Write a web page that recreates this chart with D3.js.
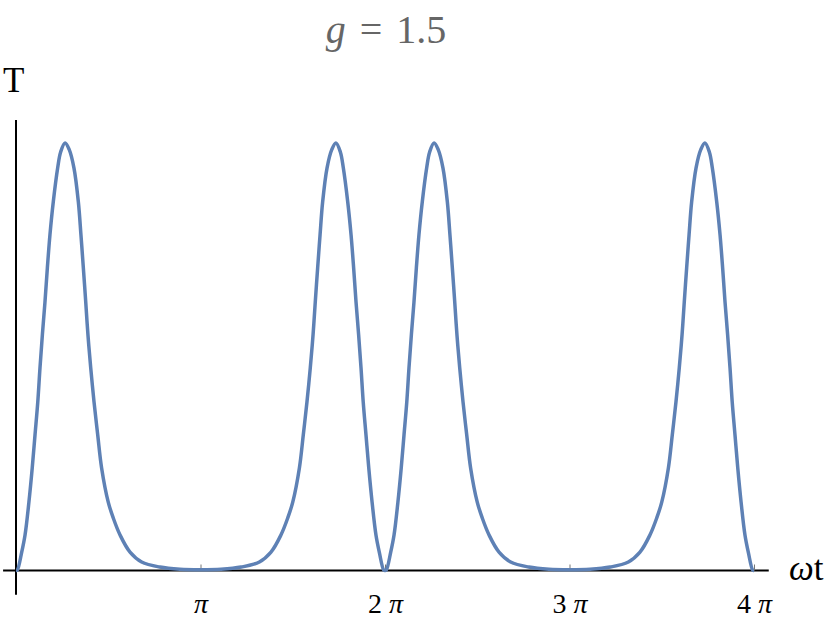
<!DOCTYPE html>
<html>
<head>
<meta charset="utf-8">
<script src="https://cdn.jsdelivr.net/npm/d3@7"></script>
<style>
  html, body { margin: 0; padding: 0; background: #fff; }
  svg { display: block; }
</style>
</head>
<body>
<svg id="chart" width="830" height="629" font-family="'Liberation Serif', 'DejaVu Serif', serif"></svg>
<script>
// ωt in units of π
const omegaT = [
  0, 0.007, 0.031, 0.049, 0.070, 0.088, 0.103, 0.118, 0.130, 0.143, 0.157, 0.170, 0.184, 0.202, 0.226, 0.242, 0.266,
  0.288, 0.314, 0.338, 0.352, 0.365, 0.378, 0.390, 0.405, 0.423, 0.443, 0.464, 0.500, 0.527, 0.564, 0.618, 0.681, 0.780, 0.889, 1.000,
  1.111, 1.220, 1.319, 1.382, 1.436, 1.473, 1.500, 1.536, 1.557, 1.577, 1.595, 1.610, 1.622, 1.635, 1.648, 1.662, 1.686, 1.712, 1.734,
  1.758, 1.774, 1.798, 1.816, 1.830, 1.843, 1.857, 1.870, 1.882, 1.897, 1.912, 1.930, 1.951, 1.969, 1.993, 2.000,
  2.007, 2.031, 2.049, 2.070, 2.088, 2.103, 2.118, 2.130, 2.143, 2.157, 2.170, 2.184, 2.202, 2.226, 2.242, 2.266,
  2.288, 2.314, 2.338, 2.352, 2.365, 2.378, 2.390, 2.405, 2.423, 2.443, 2.464, 2.500, 2.527, 2.564, 2.618, 2.681, 2.780, 2.889, 3.000,
  3.111, 3.220, 3.319, 3.382, 3.436, 3.473, 3.500, 3.536, 3.557, 3.577, 3.595, 3.610, 3.622, 3.635, 3.648, 3.662, 3.686, 3.712, 3.734,
  3.758, 3.774, 3.798, 3.816, 3.830, 3.843, 3.857, 3.870, 3.882, 3.897, 3.912, 3.930, 3.951, 3.969, 3.993, 4.000
];
const Tvals = [
  0, 0.001, 0.043, 0.083, 0.160, 0.240, 0.317, 0.394, 0.474, 0.552, 0.628, 0.708, 0.785, 0.862, 0.942, 0.979, 1.000,
  0.985, 0.942, 0.862, 0.785, 0.708, 0.628, 0.551, 0.474, 0.394, 0.317, 0.240, 0.160, 0.123, 0.083, 0.043, 0.020, 0.008, 0.003, 0.002,
  0.003, 0.008, 0.020, 0.043, 0.083, 0.123, 0.160, 0.240, 0.317, 0.394, 0.474, 0.551, 0.628, 0.708, 0.785, 0.862, 0.942, 0.985, 1.000,
  0.979, 0.942, 0.862, 0.785, 0.708, 0.628, 0.552, 0.474, 0.394, 0.317, 0.240, 0.160, 0.083, 0.043, 0.001, 0,
  0.001, 0.043, 0.083, 0.160, 0.240, 0.317, 0.394, 0.474, 0.552, 0.628, 0.708, 0.785, 0.862, 0.942, 0.979, 1.000,
  0.985, 0.942, 0.862, 0.785, 0.708, 0.628, 0.551, 0.474, 0.394, 0.317, 0.240, 0.160, 0.123, 0.083, 0.043, 0.020, 0.008, 0.003, 0.002,
  0.003, 0.008, 0.020, 0.043, 0.083, 0.123, 0.160, 0.240, 0.317, 0.394, 0.474, 0.551, 0.628, 0.708, 0.785, 0.862, 0.942, 0.985, 1.000,
  0.979, 0.942, 0.862, 0.785, 0.708, 0.628, 0.552, 0.474, 0.394, 0.317, 0.240, 0.160, 0.083, 0.043, 0.001, 0
];
const xTickValues = [1, 2, 3, 4];
const xTickCoeffs = ["", "2", "3", "4"];
const xAxisExtent = [-0.07, 4.08];
const yAxisExtent = [-0.057, 1.054];
const titleText = { name: "g", rest: " = 1.5" };
const yLabel = "T";
const SERIF = "'Liberation Serif', 'DejaVu Serif', serif";

const svg = d3.select("#chart");
const x = d3.scaleLinear().domain([0, 4]).range([16, 754]);
const y = d3.scaleLinear().domain([0, 1]).range([570.5, 143]);

// axes lines
svg.append("line")
  .attr("x1", x(xAxisExtent[0])).attr("x2", x(xAxisExtent[1]))
  .attr("y1", y(0)).attr("y2", y(0))
  .attr("stroke", "#000").attr("stroke-width", 2);
svg.append("line")
  .attr("x1", x(0)).attr("x2", x(0))
  .attr("y1", y(yAxisExtent[0])).attr("y2", y(yAxisExtent[1]))
  .attr("stroke", "#000").attr("stroke-width", 2);

// x axis ticks
const xAxis = d3.axisBottom(x).tickValues(xTickValues).tickSize(-6).tickFormat(() => "");
const gx = svg.append("g").attr("transform", `translate(0,${y(0)})`).call(xAxis);
gx.attr("font-family", SERIF);
gx.select(".domain").remove();
gx.selectAll(".tick line").attr("stroke", "#777").attr("stroke-width", 1);
gx.selectAll(".tick text").remove();
gx.selectAll(".tick").each(function(d, i) {
  const t = d3.select(this).append("text")
    .attr("y", 42).attr("text-anchor", "middle")
    .attr("font-family", SERIF)
    .attr("fill", "#000").attr("font-size", 28);
  if (xTickCoeffs[i]) t.append("tspan").text(xTickCoeffs[i] + " ");
  t.append("tspan").attr("font-style", "italic").text("π");
});

// curve
const pts = omegaT.map((t, i) => [t, Tvals[i]]);
const line = d3.line().x(d => x(d[0])).y(d => y(d[1])).curve(d3.curveCatmullRom.alpha(0.5));
svg.append("path").datum(pts)
  .attr("d", line)
  .attr("fill", "none")
  .attr("stroke", "#5e81b5")
  .attr("stroke-width", 3.5)
  .attr("stroke-linejoin", "round");

// title
const title = svg.append("text")
  .attr("x", 386).attr("y", 43).attr("text-anchor", "middle")
  .attr("font-family", SERIF)
  .attr("font-size", 40).attr("fill", "#666");
title.append("tspan").attr("font-style", "italic").text(titleText.name);
title.append("tspan").attr("word-spacing", 4).text(titleText.rest);

// axis labels
svg.append("text").attr("x", 3).attr("y", 92).attr("font-family", SERIF)
  .attr("font-size", 35).attr("fill", "#000").text(yLabel);
const xl = svg.append("text").attr("x", 789).attr("y", 580).attr("font-family", SERIF)
  .attr("font-size", 35).attr("fill", "#000");
xl.append("tspan").attr("font-style", "italic").text("ω");
xl.append("tspan").text("t");
</script>
</body>
</html>
